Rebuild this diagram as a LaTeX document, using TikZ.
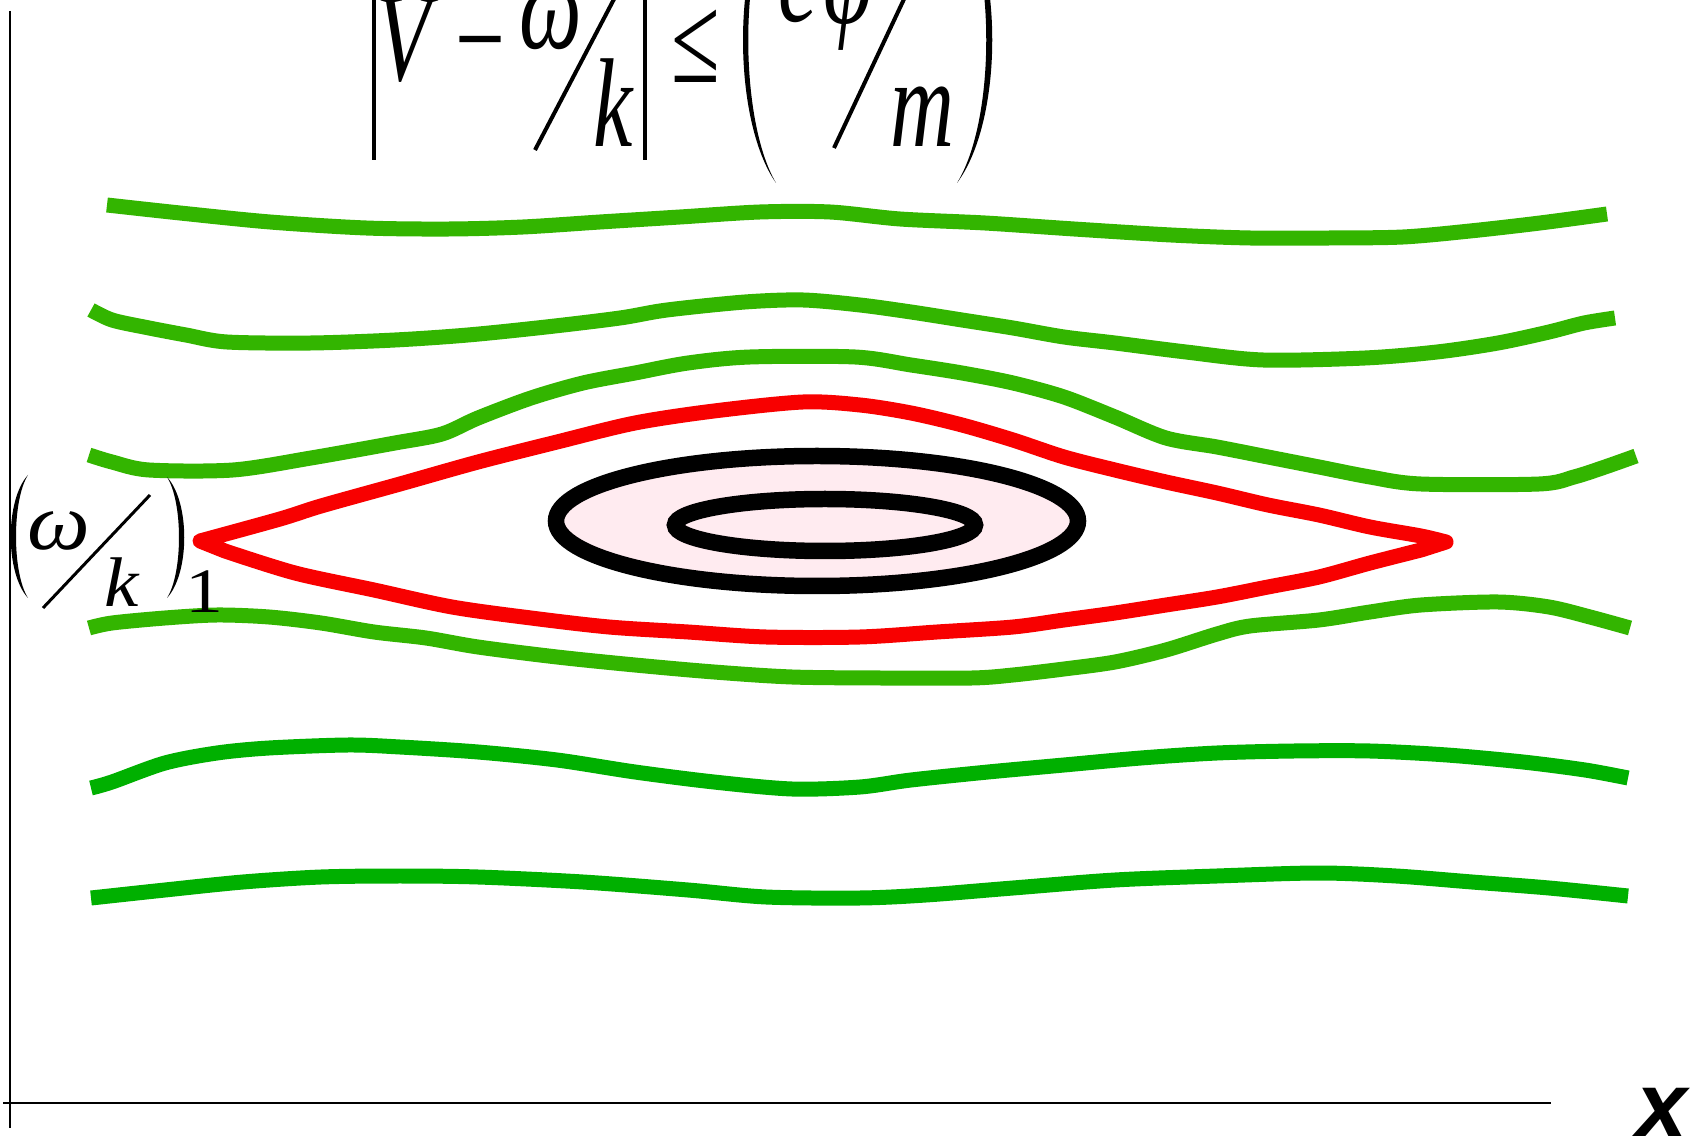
\documentclass[tikz,border=0pt]{standalone}
\usepackage{fontspec}
\setmainfont{Liberation Serif}
\newfontfamily\axisfont{Liberation Sans}
\definecolor{orbitgreen}{RGB}{51,181,0}
\definecolor{deepgreen}{RGB}{0,176,0}
\definecolor{sepred}{RGB}{248,0,0}
\definecolor{trappink}{RGB}{255,235,240}
\newcommand\fmlfont[1]{\fontsize{#1}{#1}\selectfont\itshape}

\tikzset{
    orbit/.style={line width=0.3cm, orbitgreen},
    deeporbit/.style={line width=0.3cm, deepgreen},
    separatrix/.style={line width=0.3cm, sepred, line join=round},
    trapped/.style={line width=0.33cm, black},
    sym/.style={inner sep=0pt, anchor=base west},
    fml/.style={sym, xscale=0.7, font=\fmlfont{72}},
    fmlup/.style={sym, xscale=0.7, font=\fontsize{72}{72}\selectfont},
    stroke/.style={line width=0.08cm}
}

\begin{document}
\begin{tikzpicture}[x=0.02cm, y=-0.02cm]
            \useasboundingbox (0,0) rectangle (1701,1141);
            \clip (0,0) rectangle (1701,1141);
            % axes
            \coordinate (ytop) at (10,11);
            \coordinate (ybot) at (10,1128);
            \coordinate (xleft) at (3,1103);
            \coordinate (xright) at (1551,1103);
            \draw[line width=0.05cm] (ytop) -- (ybot);
            \draw[line width=0.05cm] (xleft) -- (xright);
            \node[sym, font=\axisfont\fontsize{52}{52}\selectfont\bfseries\itshape] (xlabel) at (1636,1136) {x};

            % trapped region
            \fill[trappink] (817,521) ellipse [x radius=261, y radius=65];
            \draw[trapped] (817,521) ellipse [x radius=261, y radius=65];
            \draw[trapped] (825,525) ellipse [x radius=150, y radius=26];

            % separatrix
            \draw[separatrix] plot[smooth] coordinates {(200,541) (280,519) (321,506) (400,484) (478,462) (557,442) (635,423) (714,411) (803,402) (860,405) (911,413) (962,425) (1013,440) (1064,457) (1115,470) (1166,482) (1217,493) (1268,505) (1319,515) (1370,527) (1421,536) (1446,542)}
                -- plot[smooth] coordinates {(1421,550) (1370,563) (1319,577) (1268,587) (1217,597) (1166,605) (1115,613) (1064,620) (1013,627) (937,632) (860,637) (766,637) (688,632) (609,627) (531,618) (452,607) (374,590) (295,573) (225,551)} -- cycle;

            % passing orbits
            \draw[orbit] plot[smooth] coordinates {(107,205) (180,213) (270,222) (366,228) (450,229) (523,227) (600,222) (680,217) (760,212) (830,212) (900,219) (985,223) (1074,229) (1171,235) (1250,238) (1330,238) (1403,237) (1470,231) (1540,223) (1607,214)};
            \draw[orbit] plot[smooth] coordinates {(91,310) (112,320) (144,327) (186,335) (227,342) (311,343) (395,340) (468,335) (546,327) (620,318) (667,310) (745,302) (803,300) (860,305) (911,312) (962,320) (1013,328) (1064,337) (1115,343) (1186,352) (1263,360) (1365,358) (1437,352) (1498,343) (1549,332) (1584,323) (1615,318)};
            \draw[orbit] plot[smooth] coordinates {(89,455) (112,462) (149,470) (233,470) (311,458) (395,443) (442,434) (478,418) (531,398) (583,383) (635,373) (688,363) (750,357) (855,357) (911,365) (962,373) (1013,383) (1064,397) (1115,417) (1166,438) (1217,447) (1268,457) (1319,467) (1370,477) (1421,484) (1539,484) (1574,477) (1605,467) (1636,456)};
            \draw[orbit] plot[smooth] coordinates {(89,628) (112,623) (165,618) (217,615) (269,617) (321,623) (374,632) (426,638) (478,647) (557,657) (635,665) (714,672) (792,677) (880,678) (972,678) (1013,675) (1064,669) (1115,662) (1166,650) (1217,634) (1250,626) (1319,620) (1370,612) (1421,605) (1498,602) (1549,607) (1590,617) (1630,628)};
            \draw[deeporbit] plot[smooth] coordinates {(91,788) (112,782) (165,763) (217,753) (269,748) (348,745) (400,747) (478,752) (557,760) (635,772) (714,782) (792,789) (860,787) (911,780) (988,772) (1064,765) (1141,758) (1217,753) (1294,751) (1370,751) (1447,755) (1523,762) (1585,770) (1628,778)};
            \draw[deeporbit] plot[smooth] coordinates {(91,898) (165,890) (243,882) (321,877) (400,876) (478,877) (583,882) (688,890) (766,897) (860,898) (926,895) (1013,888) (1115,880) (1217,876) (1319,873) (1396,876) (1472,882) (1549,888) (1628,896)};

            % |V - w/k| <= (e phi/m)
            \coordinate (bar1a) at (374,-10);
            \coordinate (bar1b) at (374,160);
            \coordinate (bar2a) at (645,-10);
            \coordinate (bar2b) at (645,160);
            \draw[stroke] (bar1a) -- (bar1b);
            \draw[stroke] (bar2a) -- (bar2b);
            \node[fml] (V) at (376,81) {V};
            \node[fmlup] (minus) at (455,82) {−};
            \node[fml] (omega) at (519,49) {ω};
            \coordinate (sl1a) at (535,150);
            \coordinate (sl1b) at (624,-20);
            \draw[stroke] (sl1a) -- (sl1b);
            \node[fml] (k) at (593,147) {k};
            \node[fmlup] (leq) at (671,83) {≤};
            \fill (776,-103) .. controls (732,-40) and (732,120) .. (776,183)
                .. controls (739,120) and (739,-40) .. (776,-103) -- cycle;
            \node[fml] (e) at (778,22) {e};
            \node[fml] (phi) at (823,24) {φ};
            \coordinate (sl2a) at (834,148);
            \coordinate (sl2b) at (913,-20);
            \draw[stroke] (sl2a) -- (sl2b);
            \node[fml] (m) at (890,147) {m};
            \fill (957,-103) .. controls (1004,-40) and (1004,120) .. (957,183)
                .. controls (996,120) and (996,-40) .. (957,-103) -- cycle;

            % (w/k)_1
            \fill (28,475) .. controls (5,500) and (5,573) .. (28,598)
                .. controls (12,573) and (12,500) .. (28,475) -- cycle;
            \node[sym, xscale=1.1, font=\fmlfont{46}] (lomega) at (27,550) {ω};
            \coordinate (sl3a) at (43,608);
            \coordinate (sl3b) at (150,495);
            \draw[line width=0.06cm] (sl3a) -- (sl3b);
            \node[sym, xscale=1.1, font=\fmlfont{40}] (lk) at (104,607) {k};
            \fill (167,477) .. controls (190,502) and (190,573) .. (167,598)
                .. controls (183,573) and (183,502) .. (167,477) -- cycle;
            \node[sym, xscale=1.2, font=\fontsize{36}{36}\selectfont] (one) at (185,613) {1};
\end{tikzpicture}
\end{document}
